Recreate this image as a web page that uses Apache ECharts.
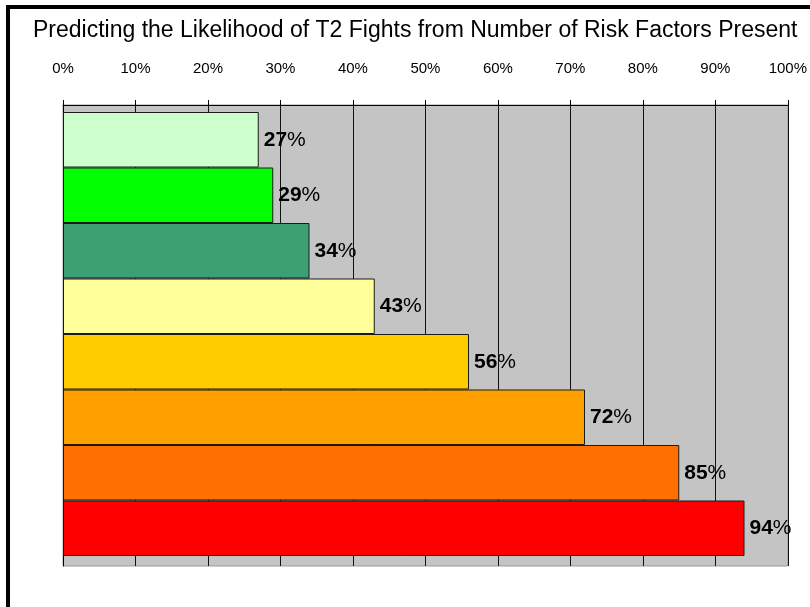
<!DOCTYPE html>
<html>
<head>
<meta charset="utf-8">
<script src="https://cdn.jsdelivr.net/npm/echarts@6/dist/echarts.min.js"></script>
<style>
  html, body { margin: 0; padding: 0; background: #fff; }
  #chart { width: 810px; height: 607px; }
</style>
</head>
<body>
<div id="chart"></div>
<script>
// number of risk factors present (one bar each, top to bottom)
const categories = ['0', '1', '2', '3', '4', '5', '6', '7'];
const likelihood = [27, 29, 34, 43, 56, 72, 85, 94];
const barColors = ['#CCFFCC', '#00FF00', '#3CA072', '#FFFF99', '#FFCC00', '#FF9F00', '#FF7000', '#FF0000'];
const tickStep = 10;

const FONT = '"Liberation Sans", Arial, sans-serif';

const chart = echarts.init(document.getElementById('chart'));

const option = {
  backgroundColor: '#fff',
  animation: false,
  title: {
    text: 'Predicting the Likelihood of T2 Fights from Number of Risk Factors Present',
    left: 33,
    top: 19,
    padding: 0,
    textStyle: { fontFamily: FONT, fontSize: 23, fontWeight: 'normal', color: '#000' },
  },
  graphic: [
    {
      type: 'rect',
      shape: { x: 8, y: 7, width: 900, height: 700 },
      style: { fill: 'none', stroke: '#000', lineWidth: 4 },
      silent: true,
    },
  ],
  grid: [
    // gray plot area with the axis
    {
      left: 63, right: 22, top: 105, bottom: 41,
      show: true, backgroundColor: '#C4C4C4', borderColor: '#9a9a9a', borderWidth: 1,
    },
    // bars, inset a little from the plot area
    { left: 63, right: 22, top: 112, bottom: 51 },
  ],
  xAxis: [
    {
      gridIndex: 0,
      type: 'value',
      position: 'top',
      min: 0,
      max: 100,
      interval: tickStep,
      axisLine: { show: true, lineStyle: { color: '#000', width: 1 } },
      axisTick: { show: true, length: 5, lineStyle: { color: '#000' } },
      axisLabel: {
        margin: 29,
        formatter: '{value}%',
        fontFamily: FONT,
        fontSize: 15,
        color: '#000',
      },
      splitLine: { show: true, lineStyle: { color: '#111', width: 1 } },
    },
    { gridIndex: 1, type: 'value', min: 0, max: 100, show: false },
  ],
  yAxis: [
    {
      gridIndex: 0,
      type: 'category',
      data: categories,
      inverse: true,
      axisLine: { show: true, lineStyle: { color: '#000', width: 1 } },
      axisTick: { show: false },
      axisLabel: { show: false },
    },
    { gridIndex: 1, type: 'category', data: categories, inverse: true, show: false },
  ],
  series: [
    {
      type: 'bar',
      xAxisIndex: 1,
      yAxisIndex: 1,
      barCategoryGap: 0,
      data: likelihood.map((v, i) => ({
        value: v,
        itemStyle: { color: barColors[i] },
      })),
      itemStyle: { borderColor: '#1a1a1a', borderWidth: 1 },
      label: {
        show: true,
        position: 'right',
        distance: 5,
        formatter: p => '{n|' + p.value + '}{p|%}',
        rich: {
          n: { fontFamily: FONT, fontSize: 21, fontWeight: 'bold', color: '#000' },
          p: { fontFamily: FONT, fontSize: 21, fontWeight: 'normal', color: '#000' },
        },
      },
    },
  ],
};

chart.setOption(option);
</script>
</body>
</html>
